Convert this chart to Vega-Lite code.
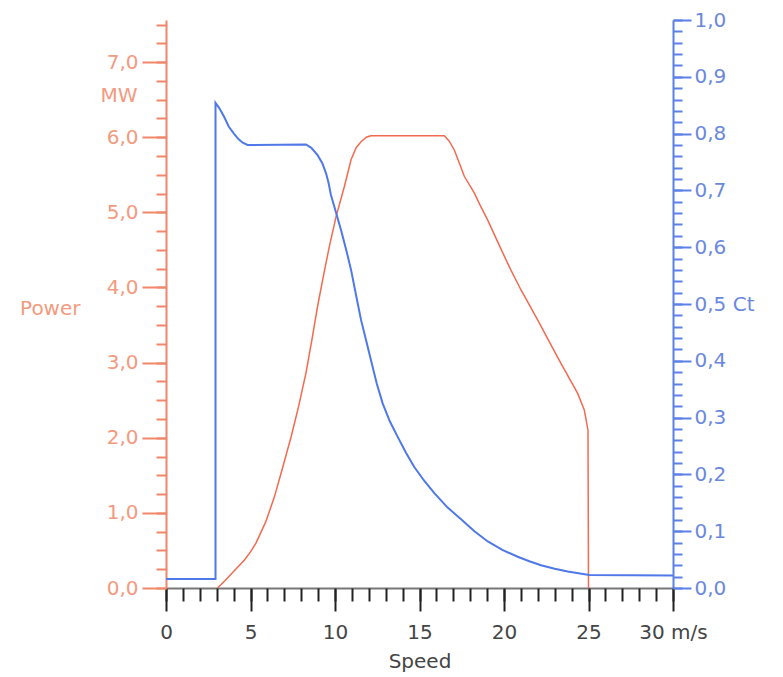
{
  "$schema": "https://vega.github.io/schema/vega-lite/v6.json",
  "autosize": "none",
  "width": 507,
  "height": 568,
  "padding": {"left": 166, "top": 20, "right": 110, "bottom": 89},
  "background": "white",
  "config": {
    "view": {"stroke": null},
    "axis": {"labelFont": "DejaVu Sans", "titleFont": "DejaVu Sans", "labelFontSize": 20, "titleFontSize": 20, "titleFontWeight": "normal", "grid": false}
  },
  "datasets": {
    "power": [
      {"i": 0, "speed": 3.05, "power": 0},
      {"i": 1, "speed": 3.5, "power": 0.1},
      {"i": 2, "speed": 4.0, "power": 0.22},
      {"i": 3, "speed": 4.63, "power": 0.37},
      {"i": 4, "speed": 5.0, "power": 0.48},
      {"i": 5, "speed": 5.33, "power": 0.6},
      {"i": 6, "speed": 5.9, "power": 0.88},
      {"i": 7, "speed": 6.41, "power": 1.21},
      {"i": 8, "speed": 6.9, "power": 1.6},
      {"i": 9, "speed": 7.4, "power": 2.01},
      {"i": 10, "speed": 7.85, "power": 2.42},
      {"i": 11, "speed": 8.28, "power": 2.86},
      {"i": 12, "speed": 8.63, "power": 3.3},
      {"i": 13, "speed": 8.97, "power": 3.75},
      {"i": 14, "speed": 9.33, "power": 4.17},
      {"i": 15, "speed": 9.66, "power": 4.54},
      {"i": 16, "speed": 10.06, "power": 4.94},
      {"i": 17, "speed": 10.55, "power": 5.34},
      {"i": 18, "speed": 10.95, "power": 5.7},
      {"i": 19, "speed": 11.25, "power": 5.86},
      {"i": 20, "speed": 11.54, "power": 5.94},
      {"i": 21, "speed": 11.85, "power": 6.0},
      {"i": 22, "speed": 12.13, "power": 6.02},
      {"i": 23, "speed": 16.47, "power": 6.02},
      {"i": 24, "speed": 16.75, "power": 5.95},
      {"i": 25, "speed": 17.06, "power": 5.83},
      {"i": 26, "speed": 17.35, "power": 5.66},
      {"i": 27, "speed": 17.65, "power": 5.48},
      {"i": 28, "speed": 18.24, "power": 5.26},
      {"i": 29, "speed": 18.6, "power": 5.09},
      {"i": 30, "speed": 19.03, "power": 4.9},
      {"i": 31, "speed": 19.7, "power": 4.57},
      {"i": 32, "speed": 20.41, "power": 4.23},
      {"i": 33, "speed": 21.0, "power": 3.97},
      {"i": 34, "speed": 21.99, "power": 3.57},
      {"i": 35, "speed": 22.7, "power": 3.27},
      {"i": 36, "speed": 23.37, "power": 2.99},
      {"i": 37, "speed": 24.36, "power": 2.59},
      {"i": 38, "speed": 24.75, "power": 2.37},
      {"i": 39, "speed": 24.97, "power": 2.1},
      {"i": 40, "speed": 25.0, "power": 0}
    ],
    "ct": [
      {"i": 0, "speed": 0, "ct": 0.016},
      {"i": 1, "speed": 2.93, "ct": 0.016},
      {"i": 2, "speed": 2.93, "ct": 0.854},
      {"i": 3, "speed": 3.15, "ct": 0.845},
      {"i": 4, "speed": 3.43, "ct": 0.83},
      {"i": 5, "speed": 3.72, "ct": 0.812},
      {"i": 6, "speed": 4.02, "ct": 0.8},
      {"i": 7, "speed": 4.3, "ct": 0.79},
      {"i": 8, "speed": 4.54, "ct": 0.784},
      {"i": 9, "speed": 4.83, "ct": 0.78},
      {"i": 10, "speed": 8.28, "ct": 0.781},
      {"i": 11, "speed": 8.6, "ct": 0.775},
      {"i": 12, "speed": 8.97, "ct": 0.762},
      {"i": 13, "speed": 9.25, "ct": 0.748},
      {"i": 14, "speed": 9.47, "ct": 0.73},
      {"i": 15, "speed": 9.62, "ct": 0.713},
      {"i": 16, "speed": 9.76, "ct": 0.692},
      {"i": 17, "speed": 10.06, "ct": 0.661},
      {"i": 18, "speed": 10.36, "ct": 0.63},
      {"i": 19, "speed": 10.65, "ct": 0.597},
      {"i": 20, "speed": 10.95, "ct": 0.56},
      {"i": 21, "speed": 11.25, "ct": 0.515},
      {"i": 22, "speed": 11.54, "ct": 0.472},
      {"i": 23, "speed": 11.85, "ct": 0.435},
      {"i": 24, "speed": 12.13, "ct": 0.401},
      {"i": 25, "speed": 12.47, "ct": 0.36},
      {"i": 26, "speed": 12.82, "ct": 0.325},
      {"i": 27, "speed": 13.25, "ct": 0.293},
      {"i": 28, "speed": 13.71, "ct": 0.266},
      {"i": 29, "speed": 14.2, "ct": 0.238},
      {"i": 30, "speed": 14.69, "ct": 0.213},
      {"i": 31, "speed": 15.3, "ct": 0.188},
      {"i": 32, "speed": 15.88, "ct": 0.167},
      {"i": 33, "speed": 16.65, "ct": 0.142},
      {"i": 34, "speed": 17.46, "ct": 0.121},
      {"i": 35, "speed": 18.25, "ct": 0.1},
      {"i": 36, "speed": 19.04, "ct": 0.082},
      {"i": 37, "speed": 19.9, "ct": 0.067},
      {"i": 38, "speed": 20.81, "ct": 0.055},
      {"i": 39, "speed": 21.5, "ct": 0.047},
      {"i": 40, "speed": 22.19, "ct": 0.04},
      {"i": 41, "speed": 23.0, "ct": 0.034},
      {"i": 42, "speed": 23.77, "ct": 0.029},
      {"i": 43, "speed": 24.4, "ct": 0.026},
      {"i": 44, "speed": 25.05, "ct": 0.023},
      {"i": 45, "speed": 30, "ct": 0.022}
    ]
  },
  "layer": [
    {
      "data": {"name": "power"},
      "mark": {"type": "line", "color": "#f26a4f", "strokeWidth": 1.5},
      "encoding": {
        "order": {"field": "i", "type": "quantitative"},
        "x": {
          "field": "speed", "type": "quantitative",
          "scale": {"domain": [0, 30], "nice": false},
          "axis": {
            "orient": "bottom",
            "values": [0, 5, 10, 15, 20, 25, 30],
            "labelExpr": "datum.value == 30 ? '30 m/s' : datum.label",
            "tickSize": 23, "tickColor": "#222", "tickWidth": 2,
            "domainColor": "#777", "domainWidth": 2,
            "labelColor": "#444", "labelPadding": 11, "labelFlush": false,
            "title": "Speed", "titleColor": "#444", "titlePadding": 9
          }
        },
        "y": {
          "field": "power", "type": "quantitative",
          "scale": {"domain": [0, 7.56], "nice": false, "zero": true},
          "axis": {
            "orient": "left",
            "values": [0, 1, 2, 3, 4, 5, 6, 7],
            "labelExpr": "replace(format(datum.value, '.1f'), '.', ',')",
            "tickSize": 24, "tickColor": "#f0866a", "tickWidth": 2,
            "domainColor": "#f0866a", "domainWidth": 2,
            "labelColor": "#f39a80", "labelPadding": 4,
            "title": "Power", "titleColor": "#f39a80", "titleAngle": 0,
            "titleAlign": "right", "titleBaseline": "middle",
            "titleX": -86, "titleY": 288
          }
        }
      }
    },
    {
      "data": {"name": "power"},
      "mark": {"type": "line", "opacity": 0},
      "encoding": {
        "x": {
          "field": "speed", "type": "quantitative",
          "scale": {"domain": [0, 30], "nice": false},
          "axis": {
            "orient": "bottom",
            "values": [0,1,2,3,4,5,6,7,8,9,10,11,12,13,14,15,16,17,18,19,20,21,22,23,24,25,26,27,28,29,30],
            "tickSize": 13, "tickColor": "#222", "tickWidth": 2,
            "labels": false, "domain": false, "title": null
          }
        },
        "y": {
          "field": "power", "type": "quantitative",
          "scale": {"domain": [0, 7.56], "nice": false, "zero": true},
          "axis": {
            "orient": "left",
            "values": [0,0.25,0.5,0.75,1,1.25,1.5,1.75,2,2.25,2.5,2.75,3,3.25,3.5,3.75,4,4.25,4.5,4.75,5,5.25,5.5,5.75,6,6.25,6.5,6.75,7,7.25,7.5],
            "tickSize": 10, "tickColor": "#f0866a", "tickWidth": 2,
            "labels": false, "domain": false,
            "title": "MW", "titleColor": "#f39a80", "titleAngle": 0,
            "titleAlign": "right", "titleBaseline": "middle",
            "titleX": -29, "titleY": 75
          }
        }
      }
    },
    {
      "data": {"name": "ct"},
      "mark": {"type": "line", "color": "#4f78e8", "strokeWidth": 2},
      "encoding": {
        "order": {"field": "i", "type": "quantitative"},
        "x": {
          "field": "speed", "type": "quantitative",
          "scale": {"domain": [0, 30], "nice": false},
          "axis": null
        },
        "y": {
          "field": "ct", "type": "quantitative",
          "scale": {"domain": [0, 1], "nice": false},
          "axis": {
            "orient": "right",
            "values": [0, 0.1, 0.2, 0.3, 0.4, 0.5, 0.6, 0.7, 0.8, 0.9, 1],
            "labelExpr": "datum.value == 0.5 ? '0,5 Ct' : replace(format(datum.value, '.1f'), '.', ',')",
            "tickSize": 18, "tickColor": "#5b80e6", "tickWidth": 2,
            "domainColor": "#5b80e6", "domainWidth": 2,
            "labelColor": "#6a88de", "labelPadding": 3,
            "title": null
          }
        }
      }
    },
    {
      "data": {"name": "ct"},
      "mark": {"type": "line", "opacity": 0},
      "encoding": {
        "x": {
          "field": "speed", "type": "quantitative",
          "scale": {"domain": [0, 30], "nice": false},
          "axis": null
        },
        "y": {
          "field": "ct", "type": "quantitative",
          "scale": {"domain": [0, 1], "nice": false},
          "axis": {
            "orient": "right",
            "values": [0,0.02,0.04,0.06,0.08,0.1,0.12,0.14,0.16,0.18,0.2,0.22,0.24,0.26,0.28,0.3,0.32,0.34,0.36,0.38,0.4,0.42,0.44,0.46,0.48,0.5,0.52,0.54,0.56,0.58,0.6,0.62,0.64,0.66,0.68,0.7,0.72,0.74,0.76,0.78,0.8,0.82,0.84,0.86,0.88,0.9,0.92,0.94,0.96,0.98,1],
            "tickSize": 9, "tickColor": "#5b80e6", "tickWidth": 2,
            "labels": false, "domain": false, "title": null
          }
        }
      }
    }
  ],
  "resolve": {"scale": {"x": "independent", "y": "independent"}, "axis": {"x": "independent", "y": "independent"}}
}
